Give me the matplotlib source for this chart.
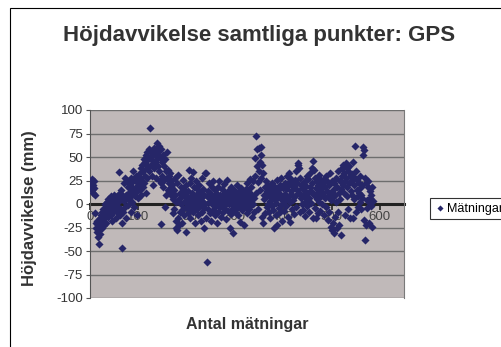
import numpy as np
import matplotlib.pyplot as plt
from matplotlib.patches import Rectangle

plt.rcParams['font.family'] = ['Liberation Sans', 'DejaVu Sans']
plt.rcParams['axes.unicode_minus'] = False

# Höjdavvikelse (mm) per mätning, i tur och ordning
avvikelse = [
    25, 18, 22, 15, 27, 20, 12, 17, 24, 10,
    -10, -20, -25, -18, -30, -35, -22, -28, -43, -15,
    -32, -20, -12, -25, -8, -18, -5, -15, -22, -10, 0, -12, -3, -20, 2, -8, -14, 5, -6, -2,
    -5, 3, -12, 8, -2, -18, 6, -8, 10, 0, -6, 4, -15, 7, -3, 9, -10, 2, 34, -4,
    5, -12, 12, -5, 15, -20, -47, 8, -8, 22, 3, 28, -3, 10, -15, 25, 6, -1, 18, 12,
    5, 20, 13, -8, 28, 10, 2, 24, 16, 35, -3, 12, 26, 8, 18, 30, -12, 14, 22, 6,
    20, 32, 15, 28, 38, 10, 25, 42, 18, 35, 48, 22, 30, 45, 12, 52, 38, 28, 55, 40,
    48, 35, 58, 50, 81, 42, 55, 30, 47, 53, 20, 38, 60, 45, 52, 28, 57, 48, 65, 40,
    55, 35, 62, 25, 50, 22, 58, -21, 45, 30, 52, 18, 40, 26, -3, 48, 35, 10, 28, 55,
    36, 15, 30, 22, 12, 33, 18, 25, 8, 20, 5, -10, 15, -5, 28, 10, -18, 2, -25, 22,
    -28, 31, -15, 5, -22, 12, -8, 18, 0, -20, 8, 26, -5, 15, -12, 3, 10, -30, 20, -2,
    6, -10, 14, 36, -6, 22, 2, -15, 28, 9, -3, 12, 34, -8, 5, 18, -20, 0, 10, 25,
    -5, 8, 15, -12, 3, 20, -2, 12, -18, 6, 28, -8, 2, 16, -4, 10, -26, 33, 0, -15,
    33, -62, 8, 14, -5, 22, 2, -10, 12, 5, -18, 18, 0, 25, -6, 9, 3, -12, 15, -2,
    6, -20, 11, 0, 18, -8, 4, 24, -3, 10, -14, 7, 1, 16, -9, 5, 21, -4, 12, -1,
    8, -16, 26, 3, -7, 14, 0, 10, -25, 5, -11, 18, 2, -5, 12, -31, 7, -2, 15, 4,
    -8, 10, 1, 20, -4, 6, -12, 14, 3, -19, 9, -1, 17, 5, -6, 12, 0, -22, 8, 2,
    11, -3, 16, 6, -10, 22, 1, 8, -5, 13, 27, -2, 4, 18, -14, 9, 0, 24, 6, -8,
    49, 30, 12, 72, 40, 58, 23, -5, 60, 35, 15, 45, 61, 28, 52, 41, -14, 33, -20, 10,
    5, 18, -10, 25, 8, -3, 14, 0, 20, -8, 11, 3, -15, 16, 6, -2, 22, 9, -6, 13,
    -26, 4, 18, -12, 10, 1, 26, -22, 7, 15, -4, 12, 20, -9, 5, 28, 0, -18, 9, 17,
    3, -7, 22, 11, -2, 16, 30, 6, -14, 19, 33, 8, 24, -19, 2, 14, 27, -5, 10, 21,
    4, 18, -11, 26, 9, 35, -3, 15, 22, 41, 44, 38, 12, -8, 28, 6, 20, 0, 17, 10,
    -6, 23, 8, 15, -13, 25, 3, 19, 30, -2, 12, 27, 6, -9, 18, 33, 1, 14, 38, 22,
    46, -15, 36, 10, 28, -4, 17, -15, 24, 5, 13, -10, 20, 31, 2, 16, -7, 26, 9, 19,
    0, 22, 12, -12, 27, 6, 18, -3, 30, 14, 24, -17, 8, 20, -8, 33, 11, -24, 4, 25,
    -28, 15, -20, 7, 22, -31, 10, -14, 28, 2, -26, 18, -9, 35, 12, -22, 25, 5, -33, 16,
    30, 38, 20, 41, 12, 33, 25, -12, 44, 28, 38, 18, 8, 35, -5, 22, 40, -15, 30, 14,
    25, 10, 32, -15, 45, 20, 5, 28, 62, -8, 35, 15, 26, 8, -3, 22, 12, 30, 2, 18,
    10, -5, 20, 6, 52, 61, 57, -17, 28, -38, -22, 22, 4, -4, 18, 25, 2, -20, 14, 6,
    -2, 10, 18, -24, 3,
]
matning = np.arange(1, len(avvikelse) + 1)

x_ticks = [0, 100, 200, 300, 400, 500, 600]
y_ticks = [-100, -75, -50, -25, 0, 25, 50, 75, 100]

fig = plt.figure(figsize=(5.02, 3.47), dpi=100)
fig.patch.set_facecolor('white')

# ram runt hela diagrammet
fig.patches.append(Rectangle((10 / 502, -0.1), 1.2, 1 - 8 / 347 + 0.1,
                             transform=fig.transFigure, fill=False,
                             edgecolor='black', linewidth=0.8))

ax = fig.add_axes([90 / 502, 49 / 347, 314 / 502, 188 / 347])
ax.set_facecolor('#c0b9b9')

ax.scatter(matning, avvikelse, marker='D', s=17, color='#262668',
           linewidths=0, zorder=3, label='Mätningar')

ax.set_xlim(0, 650)
ax.set_ylim(-100, 100)
ax.set_yticks(y_ticks)
ax.set_xticks(x_ticks)

for v in y_ticks:
    ax.axhline(v, color='#6e6e6e', linewidth=1.0, zorder=1)

# x-axeln korsar vid noll
ax.spines['bottom'].set_position(('data', 0))
ax.spines['bottom'].set_linewidth(2.2)
ax.spines['bottom'].set_color('#222222')
ax.spines['bottom'].set_zorder(2)
ax.spines['top'].set_visible(False)
ax.spines['right'].set_color('#7a7a7a')
ax.spines['left'].set_color('#555555')

ax.tick_params(axis='x', direction='out', length=4, width=1.2, color='#222222',
               labelsize=9.5, labelcolor='#444444', pad=1)
ax.tick_params(axis='y', direction='out', length=3, width=0.8, color='#555555',
               labelsize=9.5, labelcolor='#333333', pad=2)

fig.text(259 / 502, 1 - 35 / 347, 'Höjdavvikelse samtliga punkter: GPS',
         ha='center', va='center', fontsize=16, fontweight='bold', color='#333333')
fig.text(30 / 502, 1 - 208 / 347, 'Höjdavvikelse (mm)', rotation=90,
         ha='center', va='center', fontsize=12, fontweight='bold', color='#333333')
fig.text(247 / 502, 1 - 325 / 347, 'Antal mätningar',
         ha='center', va='center', fontsize=11.5, fontweight='bold', color='#333333')

leg = fig.legend(loc='upper left', bbox_to_anchor=(424 / 502, 1 - 192 / 347),
                 frameon=True, fancybox=False, fontsize=9, handletextpad=0.2,
                 borderpad=0.35, handlelength=0.8, markerscale=0.75)
leg.get_frame().set_edgecolor('black')
leg.get_frame().set_linewidth(0.8)

fig.savefig('out.png', dpi=100)
